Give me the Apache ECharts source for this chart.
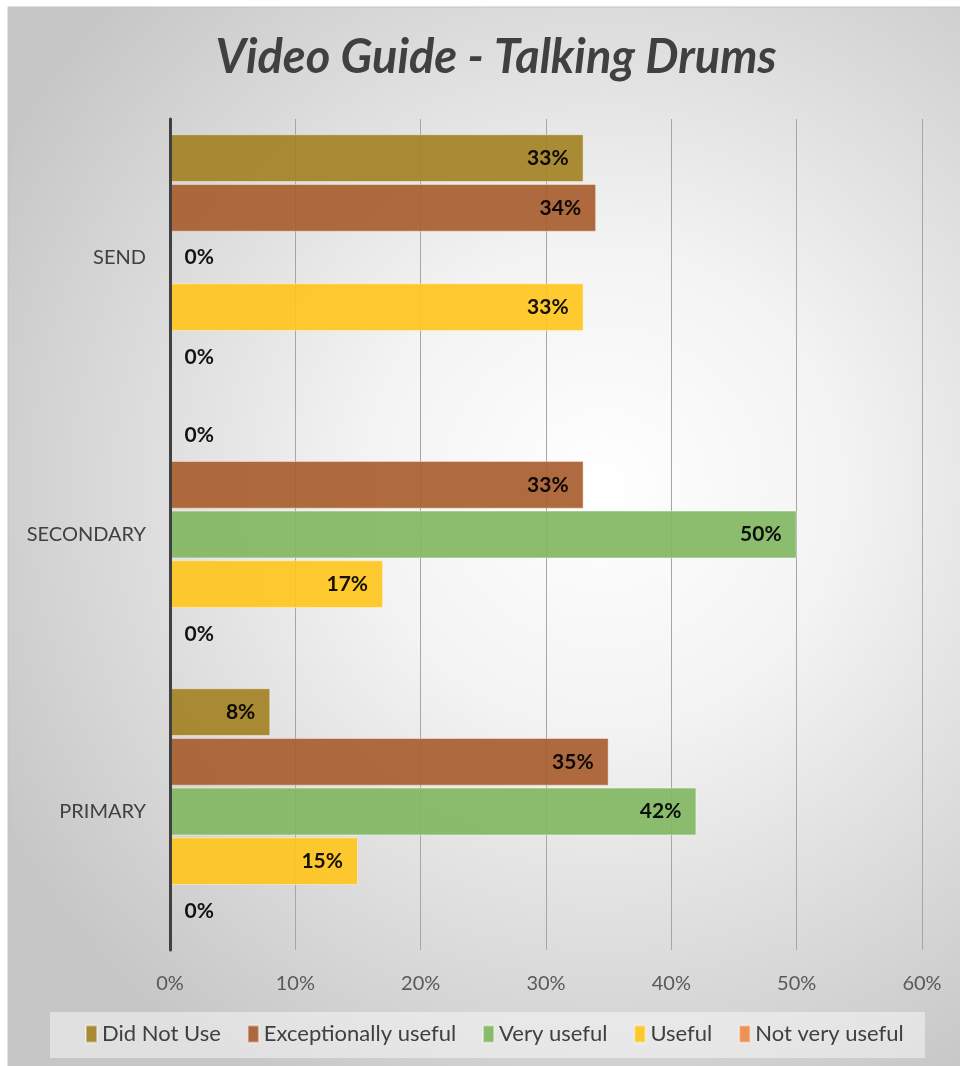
<!DOCTYPE html>
<html>
<head>
<meta charset="utf-8">
<script src="https://cdn.jsdelivr.net/npm/echarts@6/dist/echarts.min.js"></script>
<style>
  html, body { margin: 0; padding: 0; background: #ffffff; }
  #chart { width: 960px; height: 1066px; }
</style>
</head>
<body>
<div id="chart"></div>
<script>
// Survey groups, bottom to top on the category axis
const categories = ['PRIMARY', 'SECONDARY', 'SEND'];

// Percentage of responses per rating, in category order
const didNotUse = [8, 0, 33];
const exceptionallyUseful = [35, 33, 34];
const veryUseful = [42, 50, 0];
const useful = [15, 17, 33];
const notVeryUseful = [0, 0, 0];

const xTicks = [0, 10, 20, 30, 40, 50, 60];

const seriesDefs = [
  { name: 'Did Not Use', data: didNotUse, color: '#a28224' },
  { name: 'Exceptionally useful', data: exceptionallyUseful, color: '#a85d2f' },
  { name: 'Very useful', data: veryUseful, color: '#82b763' },
  { name: 'Useful', data: useful, color: '#ffc61e' },
  { name: 'Not very useful', data: notVeryUseful, color: '#ef8a4b' }
];

const FONT = 'Lato, "Open Sans", sans-serif';

const chart = echarts.init(document.getElementById('chart'));

const series = seriesDefs.map(s => ({
  name: s.name,
  type: 'bar',
  barCategoryGap: '11%',
  barGap: '4%',
  itemStyle: { color: s.color, opacity: 0.92, borderColor: 'rgba(255,255,255,0.45)', borderWidth: 1 },
  data: s.data.map(v => ({
    value: v,
    label: v === 0
      ? { position: 'right', distance: 14 }
      : { position: 'insideRight', distance: 15 }
  })),
  label: {
    show: true,
    formatter: p => p.value + '%',
    color: '#000000',
    fontFamily: FONT,
    fontWeight: 'bold',
    fontSize: 21
  }
}));

chart.setOption({
  backgroundColor: 'transparent',
  graphic: [
    {
      type: 'rect',
      z: -10,
      silent: true,
      shape: { x: 8, y: 7, width: 960, height: 1066 },
      style: {
        fill: {
          type: 'radial', x: 0.62, y: 0.45, r: 0.72,
          colorStops: [
            { offset: 0, color: '#ffffff' },
            { offset: 0.35, color: '#f3f3f3' },
            { offset: 1, color: '#c6c6c6' }
          ]
        },
        stroke: '#c4c4c4',
        lineWidth: 1
      }
    },
    {
      type: 'rect',
      z: -5,
      silent: true,
      shape: { x: 50, y: 1012, width: 875, height: 46 },
      style: { fill: 'rgba(255,255,255,0.45)' }
    }
  ],
  title: {
    text: 'Video Guide - Talking Drums',
    left: 491,
    textAlign: 'center',
    top: 29,
    textStyle: {
      fontFamily: FONT,
      fontStyle: 'italic',
      fontWeight: 'bold',
      fontSize: 47,
      color: '#404040'
    }
  },
  legend: {
    bottom: 16,
    left: 80,
    itemWidth: 11,
    itemHeight: 17,
    itemGap: 26,
    icon: 'rect',
    textStyle: { fontFamily: FONT, fontSize: 22, color: '#404040', padding: [0, 0, 0, 0] },
    data: seriesDefs.map(s => s.name)
  },
  grid: { left: 170, right: 38, top: 119, bottom: 116, containLabel: false },
  xAxis: {
    type: 'value',
    min: xTicks[0],
    max: xTicks[xTicks.length - 1],
    interval: 10,
    axisLabel: {
      formatter: v => v + '%',
      fontFamily: FONT,
      fontSize: 20,
      color: '#595959',
      margin: 24
    },
    axisLine: { show: false },
    axisTick: { show: false },
    splitLine: { show: true, lineStyle: { color: '#a6a6a6', width: 1 } }
  },
  yAxis: {
    type: 'category',
    data: categories,
    z: 5,
    axisLine: { show: true, lineStyle: { color: '#404040', width: 3 } },
    axisTick: { show: false },
    axisLabel: {
      fontFamily: FONT,
      fontSize: 20,
      color: '#404040',
      margin: 24
    }
  },
  series: series
});
</script>
</body>
</html>
